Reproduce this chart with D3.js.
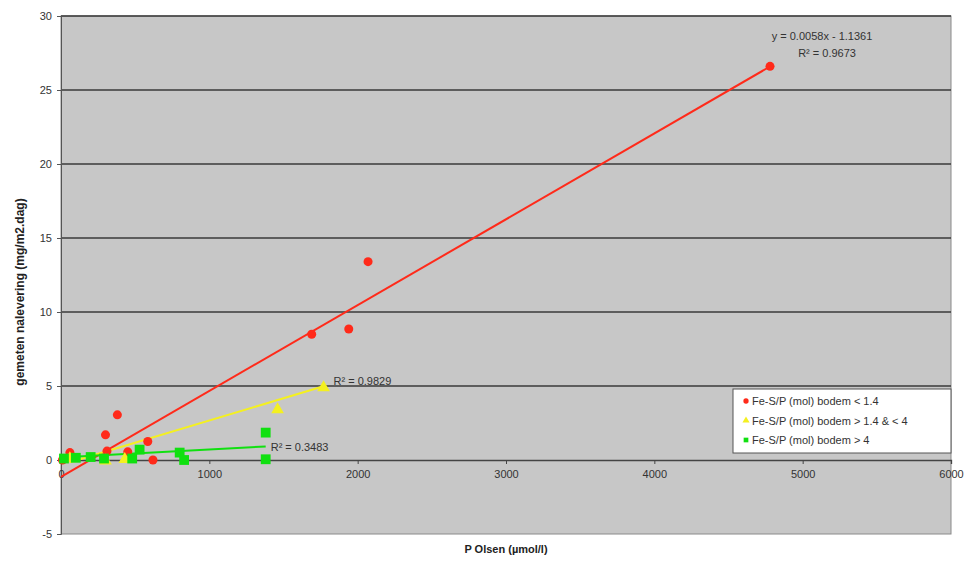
<!DOCTYPE html>
<html>
<head>
<meta charset="utf-8">
<script src="https://cdn.jsdelivr.net/npm/d3@7"></script>
<style>
  html, body { margin: 0; padding: 0; background: #fff; }
  svg { display: block; font-family: "Liberation Sans", Arial, sans-serif; }
</style>
</head>
<body>
<svg id="chart" width="967" height="562"></svg>
<script>
// Measured release versus P-Olsen, split by Fe-S/P ratio of the soil
const seriesNames = [
  "Fe-S/P (mol) bodem < 1.4",
  "Fe-S/P (mol) bodem > 1.4 & < 4",
  "Fe-S/P (mol) bodem > 4"
];
const lowX  = [10, 60, 300, 380, 310, 450, 585, 620, 1690, 1940, 2070, 4780];
const lowY  = [0.0, 0.5, 1.7, 3.05, 0.6, 0.55, 1.25, 0.0, 8.5, 8.85, 13.4, 26.6];
const midX  = [60, 300, 430, 1460, 1770];
const midY  = [0.1, -0.05, 0.05, 3.4, 4.9];
const highX = [20, 100, 200, 290, 480, 530, 800, 830, 1380, 1380];
const highY = [0.1, 0.15, 0.2, 0.1, 0.1, 0.7, 0.5, 0.0, 1.85, 0.05];

// Linear trendlines: [slope, intercept, xStart, xEnd]
const lowTrend  = [0.0058, -1.1361, 0, 4780];
const midTrend  = [0.0030, -0.33, 60, 1770];
const highTrend = [0.00054, 0.17, 20, 1380];
const trendLabels = [
  ["y = 0.0058x - 1.1361", "R² = 0.9673"],
  ["R² = 0.9829"],
  ["R² = 0.3483"]
];

const xTicks = [0, 1000, 2000, 3000, 4000, 5000, 6000];
const yTicks = [-5, 0, 5, 10, 15, 20, 25, 30];
const xTitle = "P Olsen (µmol/l)";
const yTitle = "gemeten nalevering (mg/m2.dag)";

const colors = ["#ff2a1a", "#f4f020", "#10e010"];

const svg = d3.select("#chart");
const plotLeft = 61, plotRight = 951, plotTop = 16, plotBottom = 534;

const x = d3.scaleLinear().domain([0, 6000]).range([plotLeft, plotRight]);
const y = d3.scaleLinear().domain([-5, 30]).range([plotBottom, plotTop]);
const plainInt = d => String(d); // keeps the ASCII hyphen for negatives

// plot area
svg.append("rect")
  .attr("x", plotLeft).attr("y", plotTop)
  .attr("width", plotRight - plotLeft).attr("height", plotBottom - plotTop)
  .attr("fill", "#c7c7c7").attr("stroke", "#8a8a8a").attr("stroke-width", 1);

// horizontal gridlines
svg.append("g").selectAll("line")
  .data(yTicks.filter(v => v > -5 && v !== 0))
  .join("line")
  .attr("x1", plotLeft).attr("x2", plotRight)
  .attr("y1", d => y(d)).attr("y2", d => y(d))
  .attr("stroke", "#3a3a3a").attr("stroke-width", 1.3);

// y axis
const yAxis = d3.axisLeft(y).tickValues(yTicks).tickSize(4).tickPadding(5)
  .tickFormat(plainInt);
svg.append("g").attr("transform", `translate(${plotLeft},0)`).call(yAxis)
  .call(g => g.select(".domain").attr("stroke", "#555"))
  .call(g => g.selectAll(".tick line").attr("stroke", "#555"))
  .call(g => g.selectAll("text").attr("fill", "#333").attr("font-size", 11)
    .attr("font-family", "Liberation Sans, Arial, sans-serif"));

// x axis on the zero line
const xAxis = d3.axisBottom(x).tickValues(xTicks).tickSize(4).tickPadding(6)
  .tickFormat(plainInt);
svg.append("g").attr("transform", `translate(0,${y(0)})`).call(xAxis)
  .call(g => g.select(".domain").attr("stroke", "#444").attr("stroke-width", 1.3))
  .call(g => g.selectAll(".tick line").attr("stroke", "#444"))
  .call(g => g.selectAll("text").attr("fill", "#333").attr("font-size", 11)
    .attr("font-family", "Liberation Sans, Arial, sans-serif"));

// trendlines
const trends = [lowTrend, midTrend, highTrend];
const line = d3.line().x(d => x(d[0])).y(d => y(d[1]));
trends.forEach((t, i) => {
  const pts = [[t[2], t[0] * t[2] + t[1]], [t[3], t[0] * t[3] + t[1]]];
  svg.append("path").attr("d", line(pts))
    .attr("fill", "none").attr("stroke", colors[i]).attr("stroke-width", 2);
});

// markers
const series = [
  { xs: lowX, ys: lowY, shape: d3.symbolCircle, size: 64 },
  { xs: midX, ys: midY, shape: d3.symbolTriangle, size: 70 },
  { xs: highX, ys: highY, shape: d3.symbolSquare, size: 96 }
];
series.forEach((s, i) => {
  const pts = s.xs.map((v, k) => [v, s.ys[k]]);
  svg.append("g").selectAll("path")
    .data(pts).join("path")
    .attr("d", d3.symbol().type(s.shape).size(s.size))
    .attr("transform", d => `translate(${x(d[0])},${y(d[1])})`)
    .attr("fill", colors[i]);
});

// trendline labels
const lblFont = 11;
const lowEnd = [lowTrend[3], lowTrend[0] * lowTrend[3] + lowTrend[1]];
svg.append("text").attr("x", x(lowEnd[0]) + 52).attr("y", y(lowEnd[1]) - 26)
  .attr("text-anchor", "middle").attr("font-size", lblFont).attr("fill", "#333")
  .text(trendLabels[0][0]);
svg.append("text").attr("x", x(lowEnd[0]) + 57).attr("y", y(lowEnd[1]) - 9)
  .attr("text-anchor", "middle").attr("font-size", lblFont).attr("fill", "#333")
  .text(trendLabels[0][1]);
const midEnd = [midTrend[3], midTrend[0] * midTrend[3] + midTrend[1]];
svg.append("text").attr("x", x(midEnd[0]) + 10).attr("y", y(midEnd[1]) - 1)
  .attr("font-size", lblFont).attr("fill", "#333").text(trendLabels[1][0]);
const highEnd = [highTrend[3], highTrend[0] * highTrend[3] + highTrend[1]];
svg.append("text").attr("x", x(highEnd[0]) + 5).attr("y", y(highEnd[1]) + 5)
  .attr("font-size", lblFont).attr("fill", "#333").text(trendLabels[2][0]);

// axis titles
svg.append("text").attr("x", (plotLeft + plotRight) / 2).attr("y", 553)
  .attr("text-anchor", "middle").attr("font-size", 11).attr("font-weight", "bold")
  .attr("fill", "#222").text(xTitle);
svg.append("text")
  .attr("transform", `translate(24,${(plotTop + plotBottom) / 2 + 17}) rotate(-90)`)
  .attr("text-anchor", "middle").attr("font-size", 12).attr("font-weight", "bold")
  .attr("fill", "#222").text(yTitle);

// legend
const lg = svg.append("g").attr("transform", "translate(733,389)");
lg.append("rect").attr("width", 218).attr("height", 64)
  .attr("fill", "#fff").attr("stroke", "#555").attr("stroke-width", 1);
seriesNames.forEach((name, i) => {
  const cy = 12 + i * 19.5;
  lg.append("path")
    .attr("d", d3.symbol().type(series[i].shape).size(22)())
    .attr("transform", `translate(13,${cy})`)
    .attr("fill", colors[i]);
  lg.append("text").attr("x", 19).attr("y", cy + 4)
    .attr("font-size", 11).attr("fill", "#333").text(name);
});
</script>
</body>
</html>
